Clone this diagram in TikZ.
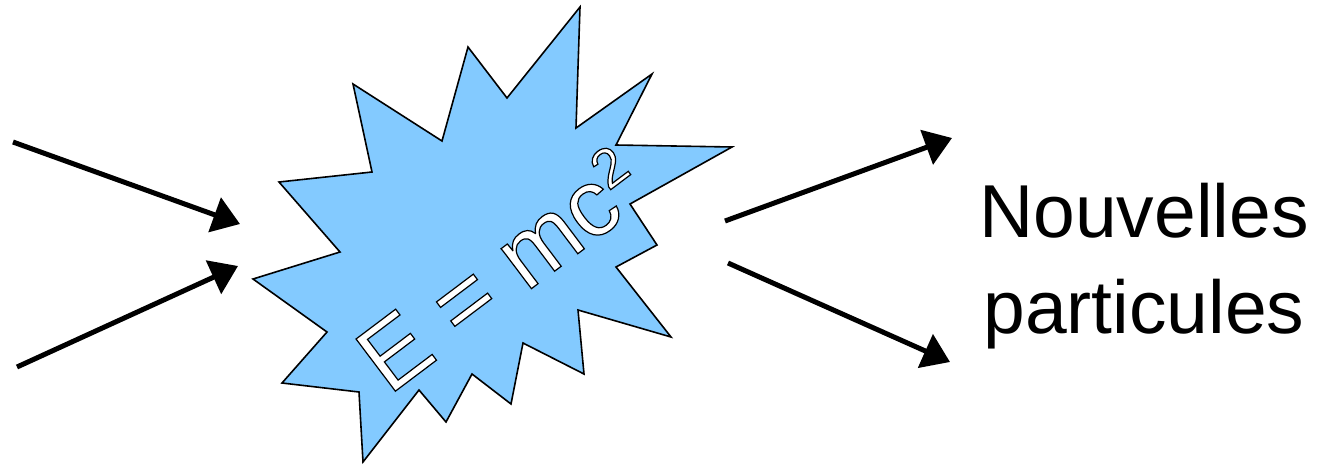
\documentclass[tikz,border=0pt]{standalone}
\usepackage{fontspec}
\setmainfont{Liberation Sans}
\usetikzlibrary{arrows.meta}
\definecolor{burst}{RGB}{131,202,255}
\newcommand{\outlinetext}[1]{{\color{white}\special{pdf:literal direct 0 0 0 RG 1.2 w 2 Tr}#1\special{pdf:literal direct 0 Tr}}}
\tikzset{
  arr/.style={line width=5pt,-{Triangle[length=27pt,width=36pt]}},
  burstshape/.style={fill=burst,draw=black,line width=1.6pt,line join=miter},
  lbl/.style={inner sep=0pt,align=center,font=\fontsize{75}{96}\selectfont}
}
\begin{document}
\begin{tikzpicture}[x=1pt,y=-1pt]
\useasboundingbox (0,0) rectangle (1325,464);
% starburst
\draw[burstshape] (279,182) -- (372,172) -- (353,84) -- (442,141) -- (468,47) -- (507,98)
 -- (580,7) -- (576,128) -- (652,74) -- (616,145) -- (732,147) -- (630,204)
 -- (657,245) -- (616,267) -- (671,337) -- (578,310) -- (584,374) -- (523,343)
 -- (511,404) -- (472,374) -- (446,422) -- (419,390) -- (363,462) -- (359,392)
 -- (282,383) -- (327,332) -- (253,279) -- (340,252) -- cycle;
% formula
\node[inner sep=0pt,anchor=base west,rotate=37] (f) at (389,396)
 {\fontsize{95}{95}\selectfont\outlinetext{E = mc\raisebox{0.33em}{\fontsize{55}{55}\selectfont 2}}};
% arrow end points
\coordinate (in1s) at (13,142);
\coordinate (in1e) at (240,224);
\coordinate (in2s) at (17,367);
\coordinate (in2e) at (238,266);
\coordinate (out1s) at (725,221);
\coordinate (out1e) at (952,138);
\coordinate (out2s) at (728,263);
\coordinate (out2e) at (950,362);
\draw[arr] (in1s) -- (in1e);
\draw[arr] (in2s) -- (in2e);
\draw[arr] (out1s) -- (out1e);
\draw[arr] (out2s) -- (out2e);
% label
\node[lbl,anchor=base] (np) at (1144,333) {Nouvelles\\particules};
\end{tikzpicture}
\end{document}
